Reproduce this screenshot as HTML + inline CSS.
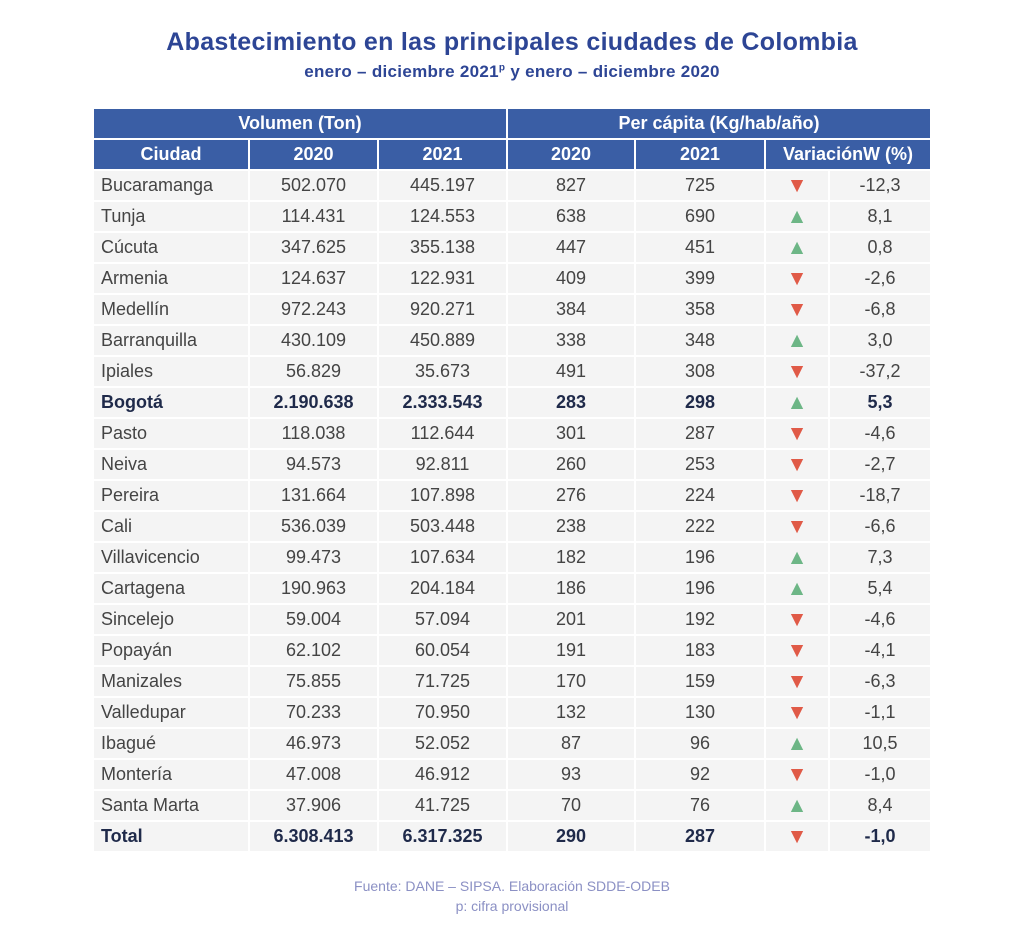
<!DOCTYPE html>
<html><head><meta charset="utf-8"><style>
body{margin:0;width:1024px;height:943px;background:#fff;font-family:"Liberation Sans",sans-serif;position:relative;overflow:hidden}
.t1{position:absolute;top:28px;left:0;width:1024px;text-align:center;color:#2d4595;font-weight:bold;font-size:25px;letter-spacing:0.3px}
.t2{position:absolute;top:62px;left:0;width:1024px;text-align:center;color:#2d4595;font-weight:bold;font-size:17px;letter-spacing:0.3px}
.t2 sup{font-size:10px}
table{position:absolute;left:92px;top:107px;border-spacing:2px;table-layout:fixed;width:840px;border-collapse:separate}
td,th{padding:0;height:29px;font-size:18px;color:#444;background:#f4f4f4;text-align:center;overflow:hidden;white-space:nowrap}
th{background:#3a5ea5;color:#fff;font-weight:bold}
td.c{text-align:left;padding-left:7px}
tr.b td{font-weight:bold;color:#1f2a4a}
td.up,tr.b td.up{color:#6db686;font-size:21px;font-weight:normal}
td.dn,tr.b td.dn{color:#e05a47;font-size:21px;font-weight:normal}
.f{position:absolute;left:0;width:1024px;text-align:center;color:#8b90c4;font-size:14px}
</style></head><body>
<div class="t1">Abastecimiento en las principales ciudades de Colombia</div>
<div class="t2">enero – diciembre 2021<sup>p</sup> y enero – diciembre 2020</div>
<table>
<colgroup><col style="width:154px"><col style="width:127px"><col style="width:127px"><col style="width:126px"><col style="width:128px"><col style="width:62px"><col style="width:100px"></colgroup>
<tr><th colspan="3">Volumen (Ton)</th><th colspan="4">Per cápita (Kg/hab/año)</th></tr>
<tr><th>Ciudad</th><th>2020</th><th>2021</th><th>2020</th><th>2021</th><th colspan="2">VariaciónW (%)</th></tr>
<tr><td class="c">Bucaramanga</td><td>502.070</td><td>445.197</td><td>827</td><td>725</td><td class="dn">▼</td><td>-12,3</td></tr>
<tr><td class="c">Tunja</td><td>114.431</td><td>124.553</td><td>638</td><td>690</td><td class="up">▲</td><td>8,1</td></tr>
<tr><td class="c">Cúcuta</td><td>347.625</td><td>355.138</td><td>447</td><td>451</td><td class="up">▲</td><td>0,8</td></tr>
<tr><td class="c">Armenia</td><td>124.637</td><td>122.931</td><td>409</td><td>399</td><td class="dn">▼</td><td>-2,6</td></tr>
<tr><td class="c">Medellín</td><td>972.243</td><td>920.271</td><td>384</td><td>358</td><td class="dn">▼</td><td>-6,8</td></tr>
<tr><td class="c">Barranquilla</td><td>430.109</td><td>450.889</td><td>338</td><td>348</td><td class="up">▲</td><td>3,0</td></tr>
<tr><td class="c">Ipiales</td><td>56.829</td><td>35.673</td><td>491</td><td>308</td><td class="dn">▼</td><td>-37,2</td></tr>
<tr class="b"><td class="c">Bogotá</td><td>2.190.638</td><td>2.333.543</td><td>283</td><td>298</td><td class="up">▲</td><td>5,3</td></tr>
<tr><td class="c">Pasto</td><td>118.038</td><td>112.644</td><td>301</td><td>287</td><td class="dn">▼</td><td>-4,6</td></tr>
<tr><td class="c">Neiva</td><td>94.573</td><td>92.811</td><td>260</td><td>253</td><td class="dn">▼</td><td>-2,7</td></tr>
<tr><td class="c">Pereira</td><td>131.664</td><td>107.898</td><td>276</td><td>224</td><td class="dn">▼</td><td>-18,7</td></tr>
<tr><td class="c">Cali</td><td>536.039</td><td>503.448</td><td>238</td><td>222</td><td class="dn">▼</td><td>-6,6</td></tr>
<tr><td class="c">Villavicencio</td><td>99.473</td><td>107.634</td><td>182</td><td>196</td><td class="up">▲</td><td>7,3</td></tr>
<tr><td class="c">Cartagena</td><td>190.963</td><td>204.184</td><td>186</td><td>196</td><td class="up">▲</td><td>5,4</td></tr>
<tr><td class="c">Sincelejo</td><td>59.004</td><td>57.094</td><td>201</td><td>192</td><td class="dn">▼</td><td>-4,6</td></tr>
<tr><td class="c">Popayán</td><td>62.102</td><td>60.054</td><td>191</td><td>183</td><td class="dn">▼</td><td>-4,1</td></tr>
<tr><td class="c">Manizales</td><td>75.855</td><td>71.725</td><td>170</td><td>159</td><td class="dn">▼</td><td>-6,3</td></tr>
<tr><td class="c">Valledupar</td><td>70.233</td><td>70.950</td><td>132</td><td>130</td><td class="dn">▼</td><td>-1,1</td></tr>
<tr><td class="c">Ibagué</td><td>46.973</td><td>52.052</td><td>87</td><td>96</td><td class="up">▲</td><td>10,5</td></tr>
<tr><td class="c">Montería</td><td>47.008</td><td>46.912</td><td>93</td><td>92</td><td class="dn">▼</td><td>-1,0</td></tr>
<tr><td class="c">Santa Marta</td><td>37.906</td><td>41.725</td><td>70</td><td>76</td><td class="up">▲</td><td>8,4</td></tr>
<tr class="b"><td class="c">Total</td><td>6.308.413</td><td>6.317.325</td><td>290</td><td>287</td><td class="dn">▼</td><td>-1,0</td></tr>
</table>
<div class="f" style="top:878px">Fuente: DANE – SIPSA. Elaboración SDDE-ODEB</div>
<div class="f" style="top:898px">p: cifra provisional</div>
</body></html>
